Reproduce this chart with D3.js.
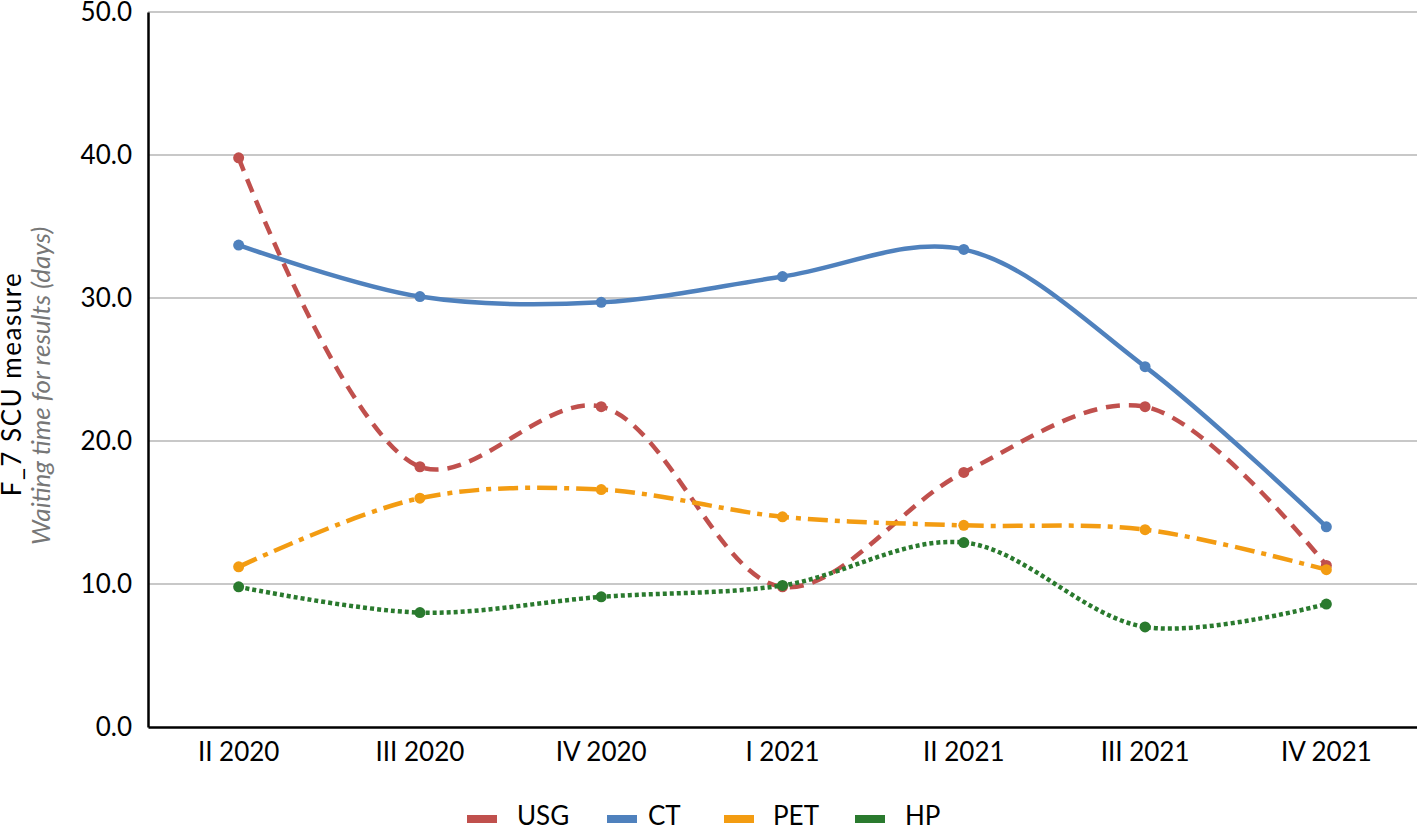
<!DOCTYPE html>
<html><head><meta charset="utf-8">
<script src="https://cdn.jsdelivr.net/npm/d3@7"></script>
<style>body{margin:0;background:#fff}svg{display:block}text{font-family:Lato,"Open Sans",sans-serif}</style>
</head><body>
<svg id="c" width="1417" height="827"></svg>
<script>
const categories = ["II 2020","III 2020","IV 2020","I 2021","II 2021","III 2021","IV 2021"];
const usg = [39.8, 18.2, 22.4, 9.8, 17.8, 22.4, 11.3];
const ct  = [33.7, 30.1, 29.7, 31.5, 33.4, 25.2, 14.0];
const pet = [11.2, 16.0, 16.6, 14.7, 14.1, 13.8, 11.0];
const hp  = [9.8, 8.0, 9.1, 9.9, 12.9, 7.0, 8.6];
const yTicks = [0,10,20,30,40,50];
const seriesNames = ["USG","CT","PET","HP"];
const seriesColors = ["#c0504d","#4f81bd","#f39c12","#2a7a2e"];
const seriesDash = ["14,9","none","20,7,5,7","4,3"];
const seriesData = [usg, ct, pet, hp];

const svg = d3.select("#c");
const L = 148, R = 1417, T = 12, B = 727;
const x = d3.scaleBand().domain(categories).range([L, R]);
const y = d3.scaleLinear().domain([0, 50]).range([B, T]);

// gridlines
svg.append("g").selectAll("line").data(yTicks.filter(d => d > 0)).join("line")
  .attr("x1", L).attr("x2", R).attr("y1", d => y(d)).attr("y2", d => y(d))
  .attr("stroke", "#c8c8c8").attr("stroke-width", 2);

// y axis
const ya = svg.append("g").attr("transform", `translate(${L},0)`)
  .call(d3.axisLeft(y).tickValues(yTicks).tickFormat(d3.format(".1f")).tickSize(0).tickPadding(16));
ya.select(".domain").attr("stroke", "#000").attr("stroke-width", 2.5);
ya.selectAll("text").attr("font-size", 26).attr("fill", "#000").attr("font-family", "Lato");

// x axis
const xa = svg.append("g").attr("transform", `translate(0,${B})`)
  .call(d3.axisBottom(x).tickSize(0).tickPadding(16));
xa.select(".domain").attr("stroke", "#000").attr("stroke-width", 2.5);
xa.selectAll("text").attr("font-size", 26).attr("fill", "#000").attr("font-family", "Lato");

// axis titles
svg.append("text").attr("transform", `translate(21,384) rotate(-90)`)
  .attr("text-anchor", "middle").attr("font-size", 26).attr("letter-spacing", 1.5).attr("fill", "#000")
  .text("F_7 SCU measure");
svg.append("text").attr("transform", `translate(50,386) rotate(-90)`)
  .attr("text-anchor", "middle").attr("font-size", 26).attr("font-style", "italic").attr("fill", "#777")
  .text("Waiting time for results (days)");

const line = d3.line()
  .x((d, i) => x(categories[i]) + x.bandwidth() / 2)
  .y(d => y(d))
  .curve(d3.curveCatmullRom.alpha(0.5));

seriesData.forEach((data, k) => {
  const g = svg.append("g");
  g.append("path").datum(data).attr("d", line).attr("fill", "none")
    .attr("stroke", seriesColors[k]).attr("stroke-width", 4.5)
    .attr("stroke-dasharray", seriesDash[k]);
  g.selectAll("circle").data(data).join("circle")
    .attr("cx", (d, i) => x(categories[i]) + x.bandwidth() / 2)
    .attr("cy", d => y(d)).attr("r", 5.5).attr("fill", seriesColors[k]);
});

// legend
const legX = [467, 607, 724, 855];
const legTX = [517, 648, 773, 905];
const lg = svg.append("g");
seriesNames.forEach((n, k) => {
  lg.append("rect").attr("x", legX[k]).attr("y", 815).attr("width", 30).attr("height", 8)
    .attr("fill", seriesColors[k]);
  lg.append("text").attr("x", legTX[k]).attr("y", 825).attr("font-size", 26)
    .attr("fill", "#000").text(n);
});
</script>
</body></html>
